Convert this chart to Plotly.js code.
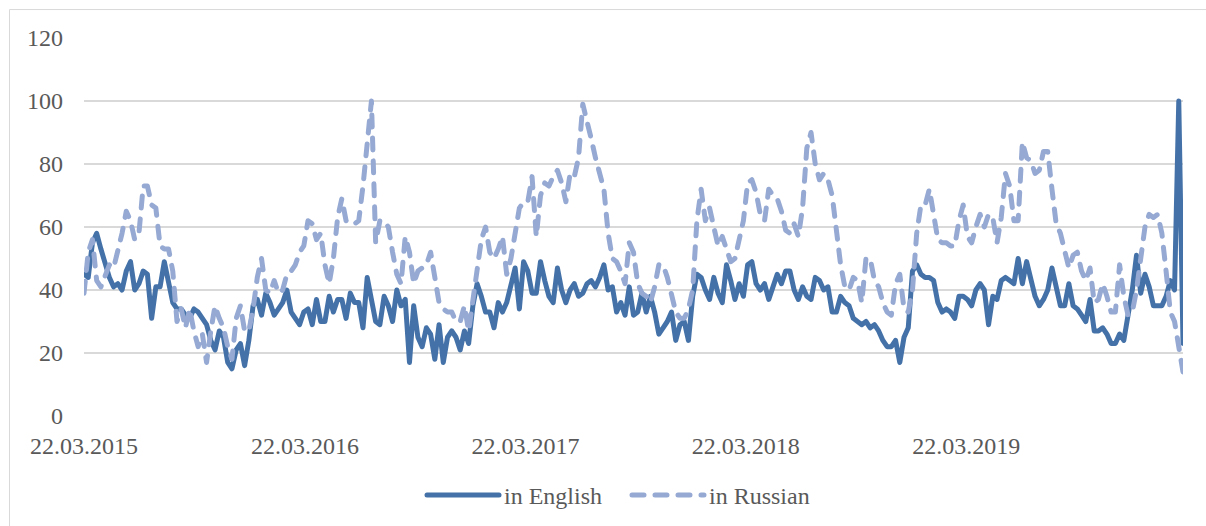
<!DOCTYPE html>
<html><head><meta charset="utf-8">
<script src="https://cdn.plot.ly/plotly-3.0.1.min.js"></script>
<style>
html,body{margin:0;padding:0;background:#fff;}
#chart{width:1206px;height:526px;}
.js-line{stroke-linecap:round !important;stroke-linejoin:round !important;}
.legendlines path{stroke-linecap:round !important;}
</style></head><body><div id="chart"></div>
<script>
// Weekly observations starting on this Sunday
const startDate = '2015-03-22';
const weekCount = 261;

const english = [
45,44,55,58,53,48,44,41,42,40,46,49,40,42,46,45,31,41,41,49,42,36,34,34,32,31,34,33,31,29,24,21,27,25,17,15,21,23,16,24,35,37,32,39,
36,32,34,36,40,33,31,29,33,34,29,37,30,30,38,33,37,37,31,39,36,36,28,44,37,30,29,38,35,30,40,35,37,17,35,25,22,28,26,18,29,17,25,
27,25,21,27,23,35,42,38,33,33,28,36,33,36,41,47,34,49,46,39,39,49,43,38,36,47,40,36,40,42,38,39,42,43,41,44,48,40,41,33,36,32,41,
32,33,39,33,38,33,26,28,30,33,24,29,30,24,38,45,44,40,37,44,39,36,48,43,37,42,38,48,49,42,40,42,37,41,45,42,46,46,40,37,41,38,
37,44,43,40,41,33,33,38,36,35,31,30,29,30,28,29,27,24,22,22,24,17,25,28,46,48,45,44,44,43,36,33,34,33,31,38,38,37,35,40,42,40,29,
38,37,43,44,43,42,50,42,49,43,38,35,37,40,47,41,35,35,42,35,34,32,30,37,27,27,28,26,23,23,26,24,31,40,51,39,45,41,35,35,35,38,43,40,100,23
];

const russian = [
39,52,56,43,41,45,48,47,52,58,65,62,56,58,73,73,67,66,54,53,53,46,30,34,28,34,27,22,26,17,27,35,31,28,22,18,31,35,27,27,34,44,50,40,
39,43,39,40,45,46,48,52,54,62,61,56,58,48,42,50,63,69,62,61,61,62,73,85,100,55,62,62,60,52,45,42,57,52,42,46,47,48,52,45,36,34,33,
33,30,30,35,27,36,45,56,60,52,50,53,57,45,50,57,66,68,68,76,57,70,74,73,76,78,74,68,77,76,82,99,94,88,82,77,72,58,50,49,46,42,55,
52,42,39,38,36,41,48,48,44,38,33,31,31,34,40,62,72,62,66,60,54,57,53,49,50,57,62,74,75,71,64,62,72,70,69,65,59,58,61,57,66,85,
90,80,75,77,75,70,58,48,41,40,44,43,36,50,50,43,41,36,33,32,42,45,34,33,40,58,67,67,72,65,56,55,55,54,54,62,67,57,55,60,64,60,64,
63,55,63,77,73,62,62,87,82,81,77,78,84,84,72,61,58,53,47,51,52,46,43,47,36,37,42,38,33,33,48,38,32,33,40,50,60,64,63,64,58,46,33,30,22,14
];

const seriesNames = ['in English', 'in Russian'];
const tickDates = ['2015-03-22','2016-03-22','2017-03-22','2018-03-22','2019-03-22'];
const tickLabels = ['22.03.2015','22.03.2016','22.03.2017','22.03.2018','22.03.2019'];
const yTicks = [0,20,40,60,80,100,120];

// weekly date categories
const t0 = Date.parse(startDate + 'T00:00:00Z');
const dates = [];
for (let i = 0; i < weekCount; i++) {
  dates.push(new Date(t0 + i * 7 * 86400000).toISOString().slice(0, 10));
}

const FONT = "'Times New Roman', 'Liberation Serif', Tinos, 'DejaVu Serif', serif";
const GREY = '#595959';
const FS = 24;

const traces = [
  {x: dates, y: english, name: seriesNames[0], type: 'scatter', mode: 'lines',
   line: {color: '#4472A8', width: 5}},
  {x: dates, y: russian, name: seriesNames[1], type: 'scatter', mode: 'lines',
   line: {color: '#95A9D3', width: 5, dash: '12px,11px'}}
];

const W = 1206, H = 526, L = 84, R = 23, T = 38, B = 109.5;
const pw = W - L - R, ph = H - T - B;
const px = v => (v - L) / pw;
const py = v => (H - B - v) / ph;

const layout = {
  width: W, height: H,
  margin: {l: L, r: R, t: T, b: B, pad: 0, autoexpand: false},
  paper_bgcolor: '#ffffff', plot_bgcolor: '#ffffff',
  font: {family: FONT, size: FS, color: GREY},
  showlegend: true,
  legend: {orientation: 'h', x: px(627), xanchor: 'center', y: py(496), yanchor: 'middle',
           itemwidth: 72, entrywidth: 118, font: {family: FONT, size: FS, color: GREY}, traceorder: 'normal',
           bgcolor: 'rgba(0,0,0,0)'},
  xaxis: {type: 'date', range: [dates[0], dates[dates.length - 1]],
          tickvals: tickDates, ticktext: tickLabels, showgrid: false, zeroline: false,
          showline: false, ticks: '', ticklabelstandoff: 13, automargin: false,
          tickfont: {family: FONT, size: FS, color: GREY}, fixedrange: true},
  yaxis: {range: [0, 120], tickvals: yTicks, showgrid: true, gridcolor: '#D9D9D9', gridwidth: 1.3,
          zeroline: false, showline: false, ticks: '', ticklabelstandoff: 20, automargin: false,
          tickfont: {family: FONT, size: FS, color: GREY}, fixedrange: true},
  shapes: [
    {type: 'line', xref: 'paper', yref: 'paper', x0: px(9.5), x1: px(9.5), y0: py(9.5), y1: py(540),
     line: {color: '#D9D9D9', width: 1}},
    {type: 'line', xref: 'paper', yref: 'paper', x0: px(9.5), x1: px(1220), y0: py(9.5), y1: py(9.5),
     line: {color: '#D9D9D9', width: 1}}
  ]
};

Plotly.newPlot('chart', traces, layout, {staticPlot: true, displayModeBar: false});
</script></body></html>
